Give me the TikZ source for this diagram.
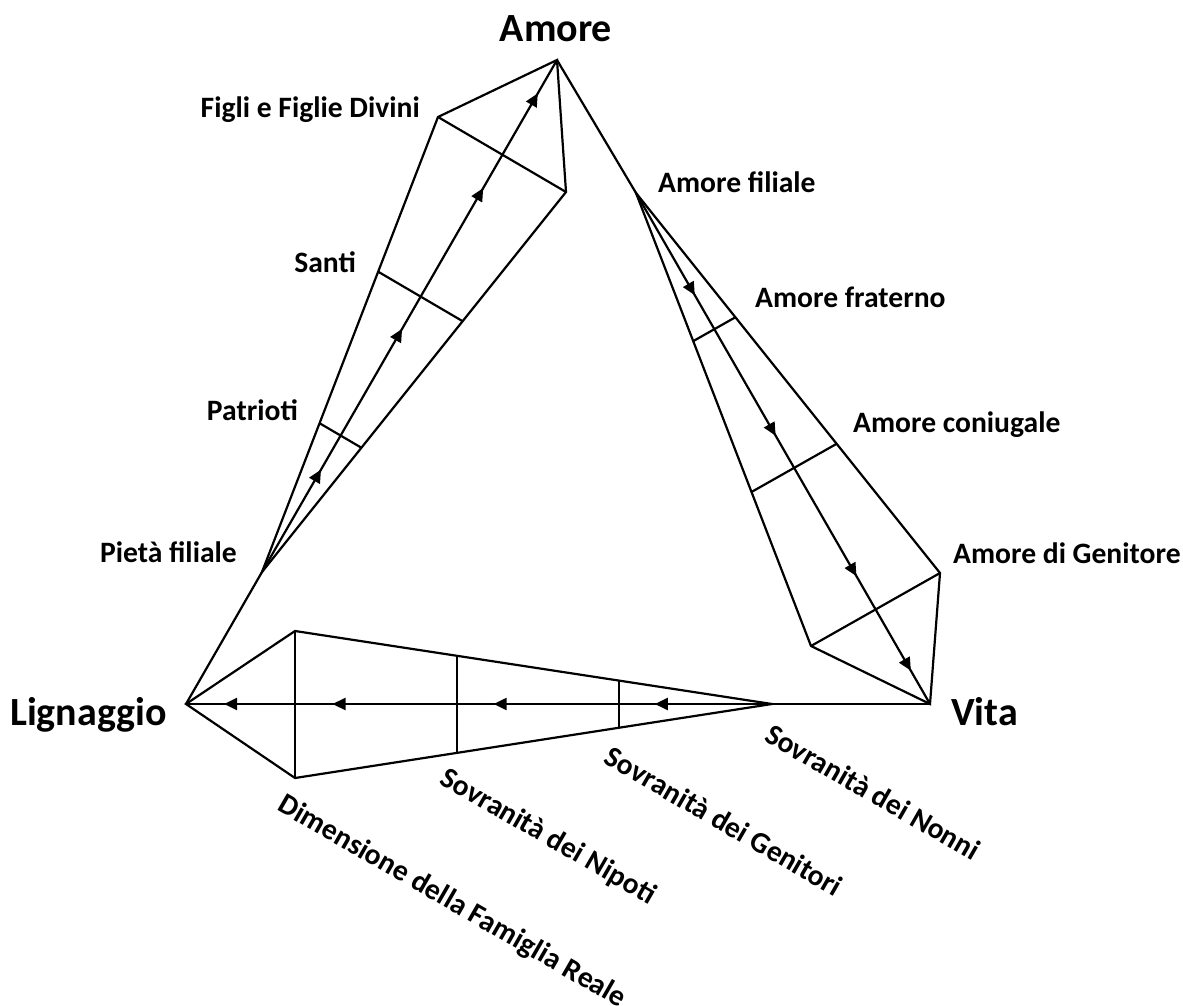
\documentclass[tikz,border=0pt]{standalone}
\usepackage{fontspec}
\setmainfont{Carlito}
\usetikzlibrary{arrows.meta,decorations.markings,calc}
\begin{document}
\begin{tikzpicture}[x=1pt,y=-1pt,
  ln/.style={line width=2.2pt},
  flow/.style={ln, postaction={decorate}, decoration={markings,
     mark=at position 0.2 with {\arrow{Triangle[length=13pt,width=12pt]}},
     mark=at position 0.475 with {\arrow{Triangle[length=13pt,width=12pt]}},
     mark=at position 0.75 with {\arrow{Triangle[length=13pt,width=12pt]}},
     mark=at position 0.935 with {\arrow{Triangle[length=13pt,width=12pt]}}}},
  big/.style={font=\fontsize{40}{46}\selectfont\bfseries, inner sep=0pt},
  lab/.style={font=\fontsize{29.6}{34}\selectfont\bfseries, inner sep=0pt},
  rlab/.style={lab, rotate=-30}
]
\useasboundingbox (0,0) rectangle (1183,1006);
% main points
\coordinate (A) at (557,60);
\coordinate (L) at (186,704);
\coordinate (V) at (930,704);
\coordinate (P) at (262,572);
\coordinate (F) at (636,193);
\coordinate (S) at (772,704);
% wing corners
\coordinate (P1) at (438,117);
\coordinate (P2) at (566,192);
\coordinate (F1) at (940,573);
\coordinate (F2) at (811,646);
\coordinate (S1) at (295,631);
\coordinate (S2) at (295,778);
% cross points
\coordinate (P1a) at ($(P)!0.327!(P1)$);
\coordinate (P2a) at ($(P)!0.327!(P2)$);
\coordinate (P1b) at ($(P)!0.66!(P1)$);
\coordinate (P2b) at ($(P)!0.66!(P2)$);
\coordinate (F1a) at ($(F)!0.327!(F1)$);
\coordinate (F2a) at ($(F)!0.327!(F2)$);
\coordinate (F1b) at ($(F)!0.66!(F1)$);
\coordinate (F2b) at ($(F)!0.66!(F2)$);
\coordinate (S1a) at ($(S)!0.32!(S1)$);
\coordinate (S2a) at ($(S)!0.32!(S2)$);
\coordinate (S1b) at ($(S)!0.66!(S1)$);
\coordinate (S2b) at ($(S)!0.66!(S2)$);

% left wing
\draw[ln] (L) -- (P);
\draw[ln] (P) -- (P1) -- (A) -- (P2) -- cycle;
\draw[ln] (P1) -- (P2);
\draw[ln] (P1a) -- (P2a);
\draw[ln] (P1b) -- (P2b);
\draw[flow] (P) -- (A);

% right wing
\draw[ln] (A) -- (F);
\draw[ln] (F) -- (F1) -- (V) -- (F2) -- cycle;
\draw[ln] (F1) -- (F2);
\draw[ln] (F1a) -- (F2a);
\draw[ln] (F1b) -- (F2b);
\draw[flow] (F) -- (V);

% bottom wing
\draw[ln] (V) -- (S);
\draw[ln] (S) -- (S1) -- (L) -- (S2) -- cycle;
\draw[ln] (S1) -- (S2);
\draw[ln] (S1a) -- (S2a);
\draw[ln] (S1b) -- (S2b);
\draw[flow] (S) -- (L);

% labels
\node[big, anchor=base] (tAmore) at (556,42) {Amore};
\node[big, anchor=base west] (tLign) at (10,725) {Lignaggio};
\node[big, anchor=base west] (tVita) at (951,725) {Vita};
\node[lab, anchor=base east] (tFigli) at (420,118) {Figli e Figlie Divini};
\node[lab, anchor=base west] (tFil) at (658,192) {Amore filiale};
\node[lab, anchor=base east] (tSanti) at (356,272) {Santi};
\node[lab, anchor=base west] (tFrat) at (755,307) {Amore fraterno};
\node[lab, anchor=base east] (tPatr) at (298,420) {Patrioti};
\node[lab, anchor=base west] (tConi) at (853,432) {Amore coniugale};
\node[lab, anchor=base east] (tPieta) at (237,562) {Pietà filiale};
\node[lab, anchor=base west] (tGen) at (953,563) {Amore di Genitore};
\node[rlab] (tNonni) at (873,792) {Sovranità dei Nonni};
\node[rlab] (tGenit) at (724,821) {Sovranità dei Genitori};
\node[rlab] (tNip) at (548,837) {Sovranità dei Nipoti};
\node[rlab] (tDim) at (452,902) {Dimensione della Famiglia Reale};
\end{tikzpicture}
\end{document}
